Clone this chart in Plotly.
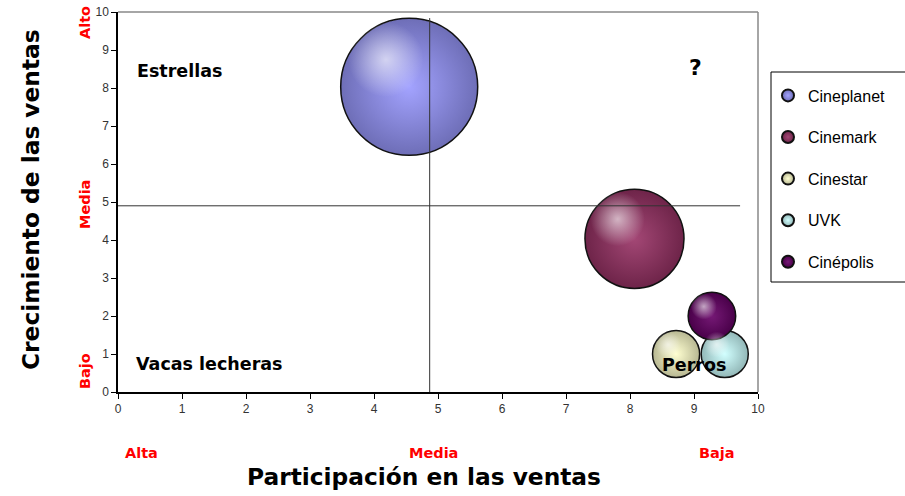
import plotly.graph_objects as go

# ---- data ----
companies = ["Cineplanet", "Cinemark", "Cinestar", "UVK", "Cinépolis"]
participacion = [4.55, 8.07, 8.72, 9.48, 9.28]   # x
crecimiento = [8.03, 4.03, 1.0, 1.0, 2.0]         # y
tamano = [44, 23, 5.2, 5.2, 5.3]                 # bubble size
colores = ["#9999FF", "#993366", "#FFFFCC", "#CCFFFF", "#660066"]
x_ticks = list(range(0, 11))
y_ticks = list(range(0, 11))
linea_x = 4.87   # vertical divider
linea_y = 4.9    # horizontal divider

W, H = 905, 496
L, R, T, B = 118, 758, 12, 392
# plotly area mode: diameter = 2*sqrt(v/(2*sizeref))
sizeref = 2 * 44 / 137 ** 2

def lighten(hexc, f):
    h = hexc.lstrip("#")
    r, g, b = int(h[0:2], 16), int(h[2:4], 16), int(h[4:6], 16)
    r = int(r + (255 - r) * f); g = int(g + (255 - g) * f); b = int(b + (255 - b) * f)
    return f"rgb({r},{g},{b})"

def darken(hexc, f):
    h = hexc.lstrip("#")
    r, g, b = int(h[0:2], 16), int(h[2:4], 16), int(h[4:6], 16)
    return f"rgb({int(r*f)},{int(g*f)},{int(b*f)})"

fig = go.Figure()
for i, name in enumerate(companies):
    fig.add_trace(go.Scatter(
        x=[participacion[i]], y=[crecimiento[i]], mode="markers", name=name,
        legendgroup=name,
        marker=dict(size=[tamano[i]], sizemode="area", sizeref=sizeref,
                    color=darken(colores[i], 0.72),
                    gradient=dict(type="radial", color=lighten(colores[i], 0.1)),
                    line=dict(color="#111111", width=1.5), opacity=1),
        hoverinfo="name",
    ))

# highlights (derived from data positions)
px_x = (R - L) / 10
px_y = (B - T) / 10
for i, name in enumerate(companies):
    d = 2 * (tamano[i] / (2 * sizeref)) ** 0.5
    fig.add_trace(go.Scatter(
        x=[participacion[i] - 0.17 * d / px_x], y=[crecimiento[i] + 0.2 * d / px_y],
        mode="markers", showlegend=False, hoverinfo="skip",
        marker=dict(size=[tamano[i] * 0.3], sizemode="area", sizeref=sizeref,
                    color="rgba(255,255,255,0)",
                    gradient=dict(type="radial", color="rgba(255,255,255,0.9)"),
                    line=dict(width=0)),
    ))

def px2paper_x(p):
    return (p - L) / (R - L)

def px2paper_y(p):
    return (B - p) / (B - T)

shapes = [
    dict(type="line", xref="x", yref="y", x0=linea_x, x1=linea_x, y0=-0.35, y1=9.84,
         line=dict(color="#333333", width=1), layer="above"),
    dict(type="line", xref="x", yref="y", x0=0, x1=9.72, y0=linea_y, y1=linea_y,
         line=dict(color="#333333", width=1), layer="above"),
    dict(type="line", xref="paper", yref="paper", x0=0, x1=1, y0=1, y1=1,
         line=dict(color="#888888", width=1.5)),
    dict(type="line", xref="paper", yref="paper", x0=1, x1=1, y0=0, y1=1,
         line=dict(color="#888888", width=1.5)),
    # legend frame (runs off the right edge as in the reference)
    dict(type="rect", xref="paper", yref="paper",
         x0=px2paper_x(771), x1=px2paper_x(915), y0=px2paper_y(282), y1=px2paper_y(72),
         line=dict(color="black", width=1), fillcolor="rgba(0,0,0,0)"),
]

qfont = dict(family="DejaVu Sans", size=17.5, color="black")
red = dict(family="DejaVu Sans", size=14.5, color="#FF0000")

def pa(px, py, text, font, angle=0):
    return dict(x=px2paper_x(px), y=px2paper_y(py), xref="paper", yref="paper",
                text=text, showarrow=False, textangle=angle, font=font,
                xanchor="center", yanchor="middle")

ann = [
    dict(x=0.27, y=8.45, xref="x", yref="y", text="<b>Estrellas</b>", showarrow=False,
         xanchor="left", yanchor="middle", font=qfont),
    dict(x=9.03, y=8.53, xref="x", yref="y", text="<b>?</b>", showarrow=False,
         xanchor="center", yanchor="middle",
         font=dict(family="DejaVu Sans", size=22, color="black")),
    dict(x=0.25, y=0.74, xref="x", yref="y", text="<b>Vacas lecheras</b>", showarrow=False,
         xanchor="left", yanchor="middle", font=qfont),
    dict(x=9.0, y=0.71, xref="x", yref="y", text="<b>Perros</b>", showarrow=False,
         xanchor="center", yanchor="middle", font=qfont),
    # axis titles
    pa(30, 200, "<b>Crecimiento de las ventas</b>",
       dict(family="DejaVu Sans", size=23.3, color="black"), -90),
    pa(424, 477, "<b>Participación en las ventas</b>",
       dict(family="DejaVu Sans", size=23.3, color="black")),
    # red labels
    pa(85, 23, "<b>Alto</b>", red, -90),
    pa(85, 205, "<b>Media</b>", red, -90),
    pa(85, 371, "<b>Bajo</b>", red, -90),
    pa(141, 453, "<b>Alta</b>", red),
    pa(433, 453, "<b>Media</b>", red),
    pa(717, 453, "<b>Baja</b>", red),
]

axis_common = dict(range=[0, 10], showgrid=False, zeroline=False, showline=True,
                   linecolor="black", linewidth=1.5, ticks="outside", ticklen=5,
                   tickcolor="black", tickfont=dict(family="Liberation Sans", size=12, color="#333333"),
                   fixedrange=True, automargin=False)

fig.update_layout(
    width=W, height=H,
    margin=dict(l=L, r=W - R, t=T, b=H - B, autoexpand=False),
    plot_bgcolor="white", paper_bgcolor="white",
    xaxis=dict(axis_common, tickvals=x_ticks),
    yaxis=dict(axis_common, tickvals=y_ticks),
    shapes=shapes, annotations=ann,
    showlegend=True,
    legend=dict(x=px2paper_x(768), y=px2paper_y(78.5), xanchor="left", yanchor="top",
                borderwidth=0, bgcolor="rgba(0,0,0,0)",
                font=dict(family="Liberation Sans", size=16, color="black"),
                itemsizing="constant", tracegroupgap=17.8, itemwidth=30),
)

fig.write_html("out.html")
